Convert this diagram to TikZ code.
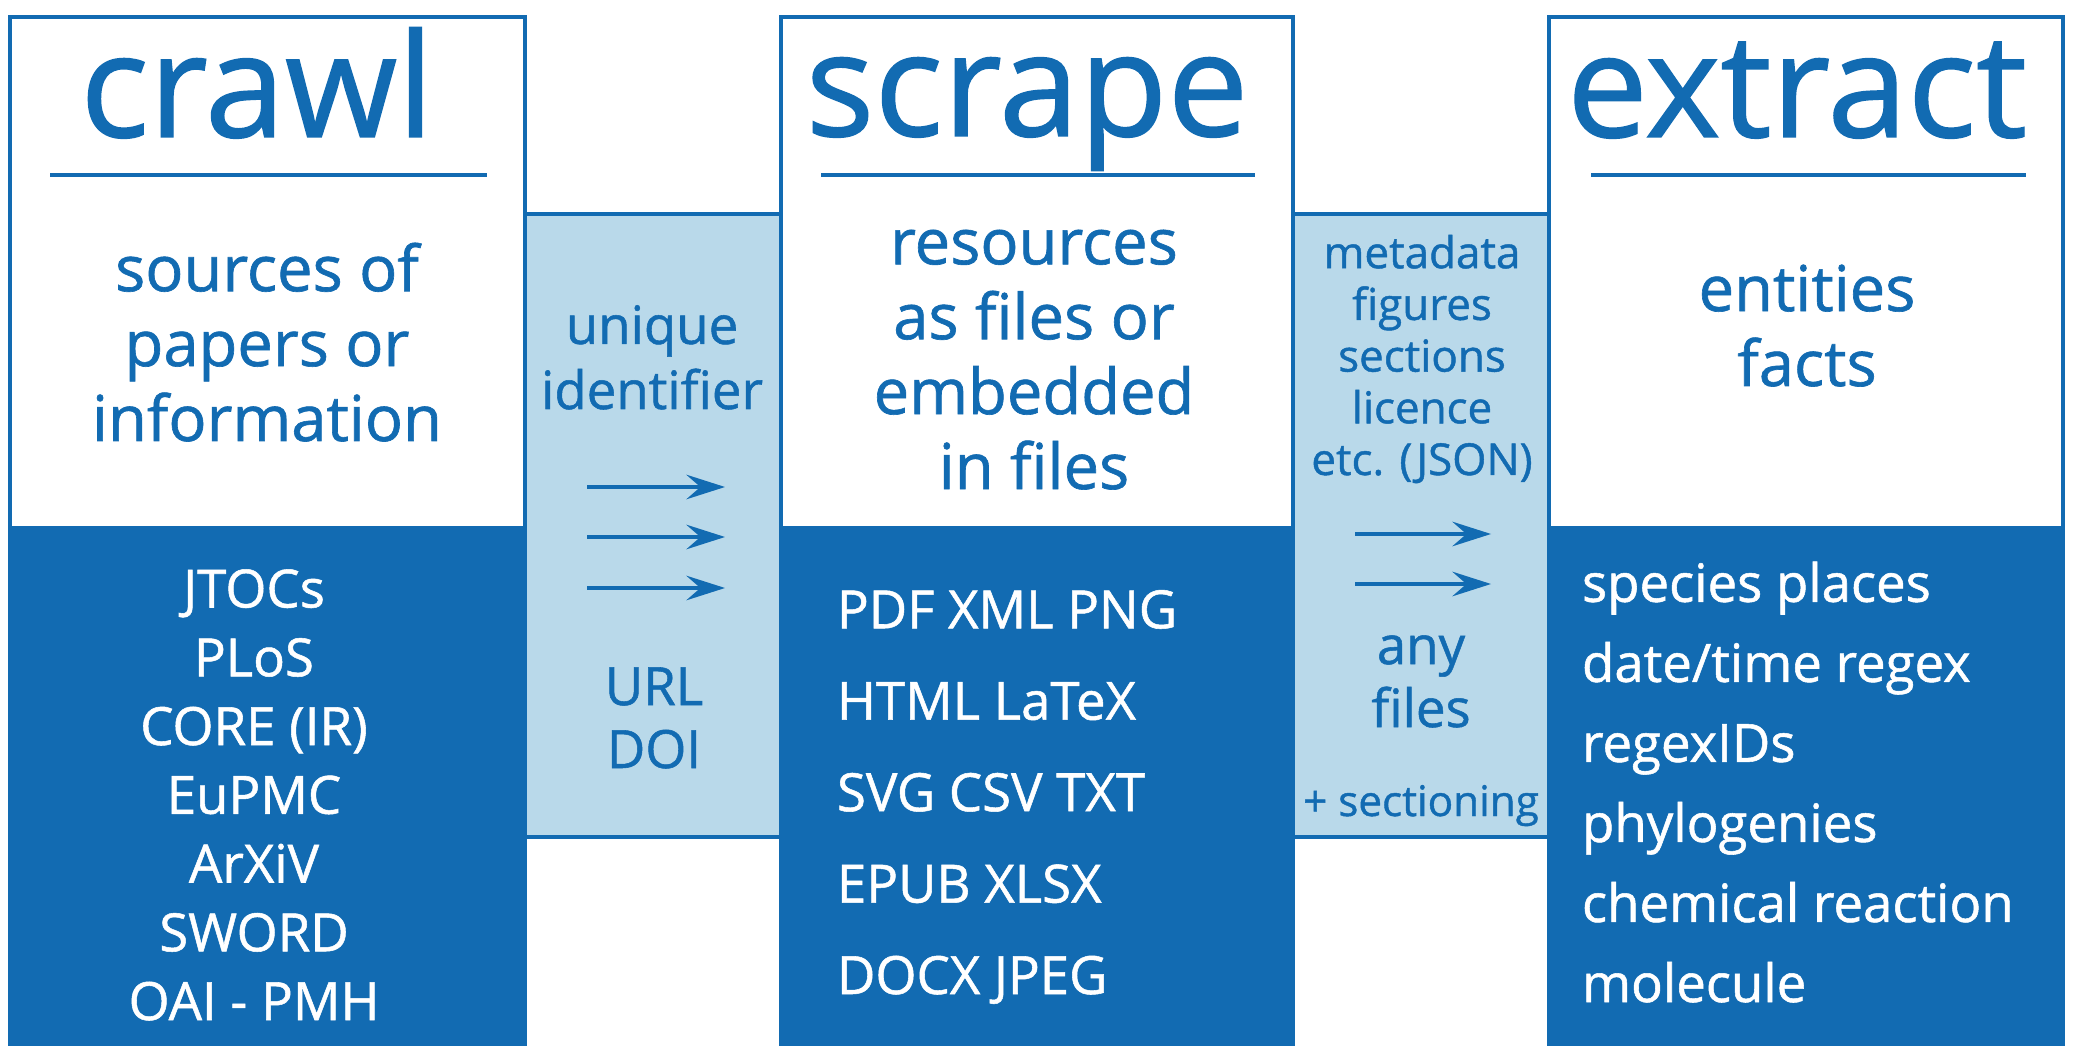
\documentclass[tikz,border=0pt]{standalone}
\usepackage[usenames,dvipsnames]{xcolor}
\usepackage{fontspec}
\setmainfont{Open Sans}[UprightFeatures={FakeBold=1}]
\usepackage{tikz}
\usetikzlibrary{arrows.meta}
\definecolor{darkblue}{RGB}{18,107,178}
\definecolor{paleblue}{RGB}{185,217,234}
\newcommand{\fs}[2]{\fontsize{#1}{#2}\selectfont}

\begin{document}
\begin{tikzpicture}[x=0.01cm, y=-0.01cm, line width=1pt,
    every node/.style={inner sep=0pt, outer sep=0pt},
    boxframe/.style={draw=darkblue},
    heading/.style={anchor=base, text=darkblue, font=\fs{41}{48}},
    midtext/.style={anchor=base, align=center, text=darkblue, font=\fs{18}{21.3}},
    sidetext/.style={anchor=base, align=center, text=darkblue, font=\fs{15}{18.5}},
    smalltext/.style={anchor=base, align=center, text=darkblue, font=\fs{12.5}{14.7}},
    listing/.style={anchor=base, text=white, font=\fs{15}{19.55}},
    pointer/.style={-{Stealth[length=11pt, width=7pt, inset=4pt]}, draw=darkblue, line width=0.9pt}]
    \useasboundingbox (0, 0) rectangle (2076, 1058);
    \fill [white] (0, 0) rectangle (2076, 1058);
    \draw [boxframe, fill=white] (10, 17) rectangle (525, 528);
    \draw [boxframe, fill=darkblue] (10, 528) rectangle (525, 1044);
    \draw [boxframe, fill=white] (781, 17) rectangle (1293, 528);
    \draw [boxframe, fill=darkblue] (781, 528) rectangle (1293, 1044);
    \draw [boxframe, fill=white] (1549, 17) rectangle (2063, 528);
    \draw [boxframe, fill=darkblue] (1549, 528) rectangle (2063, 1044);
    \draw [boxframe, fill=paleblue] (525, 214) rectangle (781, 837);
    \draw [boxframe, fill=paleblue] (1293, 214) rectangle (1549, 837);
    \draw [darkblue] (50, 175) -- (487, 175);
    \draw [darkblue] (821, 175) -- (1255, 175);
    \draw [darkblue] (1591, 175) -- (2026, 175);
    \node [heading] (CT) at (257, 137) {crawl};
    \node [heading] (ST) at (1027, 136) {scrape};
    \node [heading] (ET) at (1797, 137) {extract};
    \node [midtext] (CM) at (267, 441) {sources of\\papers or\\information};
    \node [midtext] (SM) at (1034, 489) {resources\\as files or\\embedded\\in files};
    \node [midtext] (EM) at (1807, 386) {entities\\facts};
    \node [sidetext] (UT) at (652, 409) {unique\\identifier};
    \node [sidetext, font=\fs{15}{17.9}] (UB) at (654, 768) {URL\\DOI};
    \node [smalltext] (MT) at (1422, 475) {metadata\\figures\\sections\\licence\\etc. (JSON)};
    \node [sidetext, font=\fs{15}{17.9}] (MB) at (1421, 727) {any\\files};
    \node [smalltext, font=\fs{12}{14}] (MS) at (1421, 816) {+ sectioning};
    \node [listing, align=center] (CB) at (254, 1020) {JTOCs\\PLoS\\CORE (IR)\\EuPMC\\ArXiV\\SWORD\\OAI - PMH};
    \node [listing, align=left, anchor=base west, font=\fs{15}{26}] (SB) at (837, 994) {PDF XML PNG\\HTML LaTeX\\SVG CSV TXT\\EPUB XLSX\\DOCX JPEG};
    \node [listing, align=left, anchor=base west, font=\fs{15}{22.76}] (EB) at (1582, 1002) {species places\\date/time regex\\regexIDs\\phylogenies\\chemical reaction\\molecule};
    \coordinate (U1) at (587, 487);
    \coordinate (V1) at (725, 487);
    \coordinate (U2) at (587, 537);
    \coordinate (V2) at (725, 537);
    \coordinate (U3) at (587, 588);
    \coordinate (V3) at (725, 588);
    \coordinate (M1) at (1355, 534);
    \coordinate (N1) at (1491, 534);
    \coordinate (M2) at (1355, 584);
    \coordinate (N2) at (1491, 584);
    \draw [pointer] (U1) -- (V1);
    \draw [pointer] (U2) -- (V2);
    \draw [pointer] (U3) -- (V3);
    \draw [pointer] (M1) -- (N1);
    \draw [pointer] (M2) -- (N2);
\end{tikzpicture}
\end{document}
